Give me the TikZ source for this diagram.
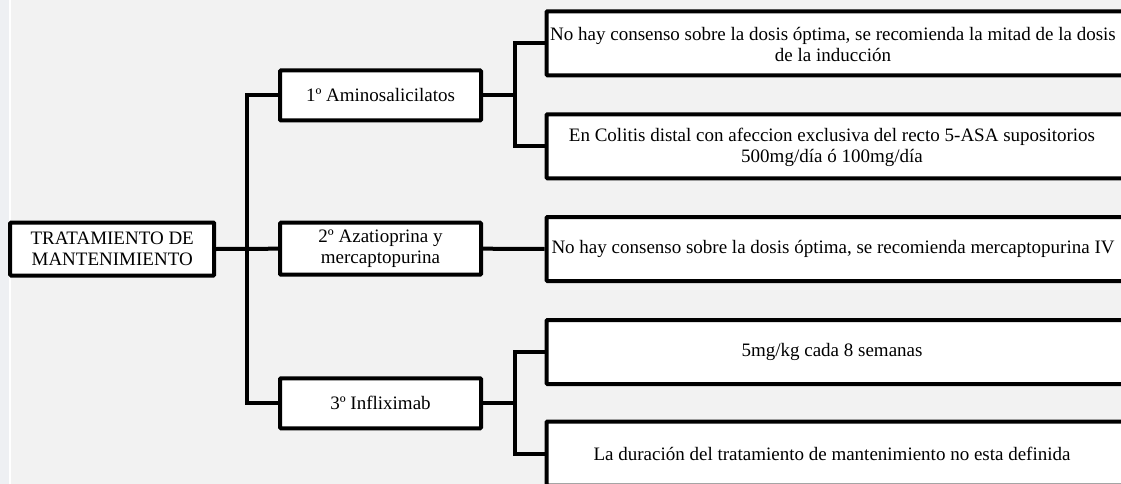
\documentclass[tikz,border=0pt]{standalone}
\usepackage{fontspec}
\setmainfont{Liberation Serif}
\usetikzlibrary{positioning}
\definecolor{paper}{HTML}{F2F2F2}
\definecolor{strip}{HTML}{EEF0F3}

\begin{document}
\begin{tikzpicture}[x=1pt,y=-1pt,
    every node/.style={font=\fontsize{19}{21}\selectfont,align=center},
    box/.style={draw=black,line width=4pt,fill=white,rounded corners=1pt,inner sep=0pt},
    rootbox/.style={box,minimum width=204pt,minimum height=53pt},
    drugbox/.style={box,minimum width=201pt,minimum height=50pt},
    leafbox/.style={box,minimum width=594pt,minimum height=64pt},
    link/.style={line width=4pt}]

    % page: grey paper with the thin strip on the left
    \useasboundingbox (0,0) rectangle (1121,484);
    \clip (0,0) rectangle (1121,484);
    \fill[paper] (0,0) rectangle (1121,484);
    \fill[strip] (0,0) rectangle (9,484);
    \draw[white,line width=1.5pt] (10,0) -- (10,484);

    %root of the tree
    \node[rootbox] (root) at (112.2,249) {TRATAMIENTO DE\\MANTENIMIENTO};

    %first level: the three drugs
    \node[drugbox] (ami) at (380.5,95.5) {1º Aminosalicilatos};
    \node[drugbox,minimum height=52pt] (aza) at (380.5,248.7) {2º Azatioprina y\\mercaptopurina};
    \node[drugbox] (ifx) at (380.5,403.3) {3º Infliximab};

    %second level: boxes run past the right edge of the page
    \node[leafbox] (c1) at (843.5,43.3) {};
    \node[leafbox] (c2) at (843.5,146.3) {};
    \node[leafbox] (c3) at (843.5,249) {};
    \node[leafbox] (c4) at (843.5,352) {};
    \node[leafbox] (c5) at (843.5,453.5) {};

    %texts of the second level, centred left of the box centre
    \node (t1) at (833,44) {No hay consenso sobre la dosis óptima, se recomienda la mitad de la dosis\\de la inducción};
    \node (t2) at (832,147) {En Colitis distal con afeccion exclusiva del recto 5-ASA supositorios\\500mg/día ó 100mg/día};
    \node (t3) at (833,249) {No hay consenso sobre la dosis óptima, se recomienda mercaptopurina IV};
    \node (t4) at (832,352) {5mg/kg cada 8 semanas};
    \node (t5) at (832,453.5) {La duración del tratamiento de mantenimiento no esta definida};

    %connectors
    \coordinate (sp) at (247,249);
    \coordinate (j1) at (514.7,95.5);
    \coordinate (j3) at (514.7,403.3);
    \draw[link] (root.east) -- (aza.west);
    \draw[link] (ami.west) -| (sp) |- (ifx.west);
    \draw[link] (ami.east) -- (j1);
    \draw[link] (c1.west) -| (j1) |- (c2.west);
    \draw[link] (aza.east) -- (c3.west);
    \draw[link] (ifx.east) -- (j3);
    \draw[link] (c4.west) -| (j3) |- (c5.west);
\end{tikzpicture}
\end{document}
